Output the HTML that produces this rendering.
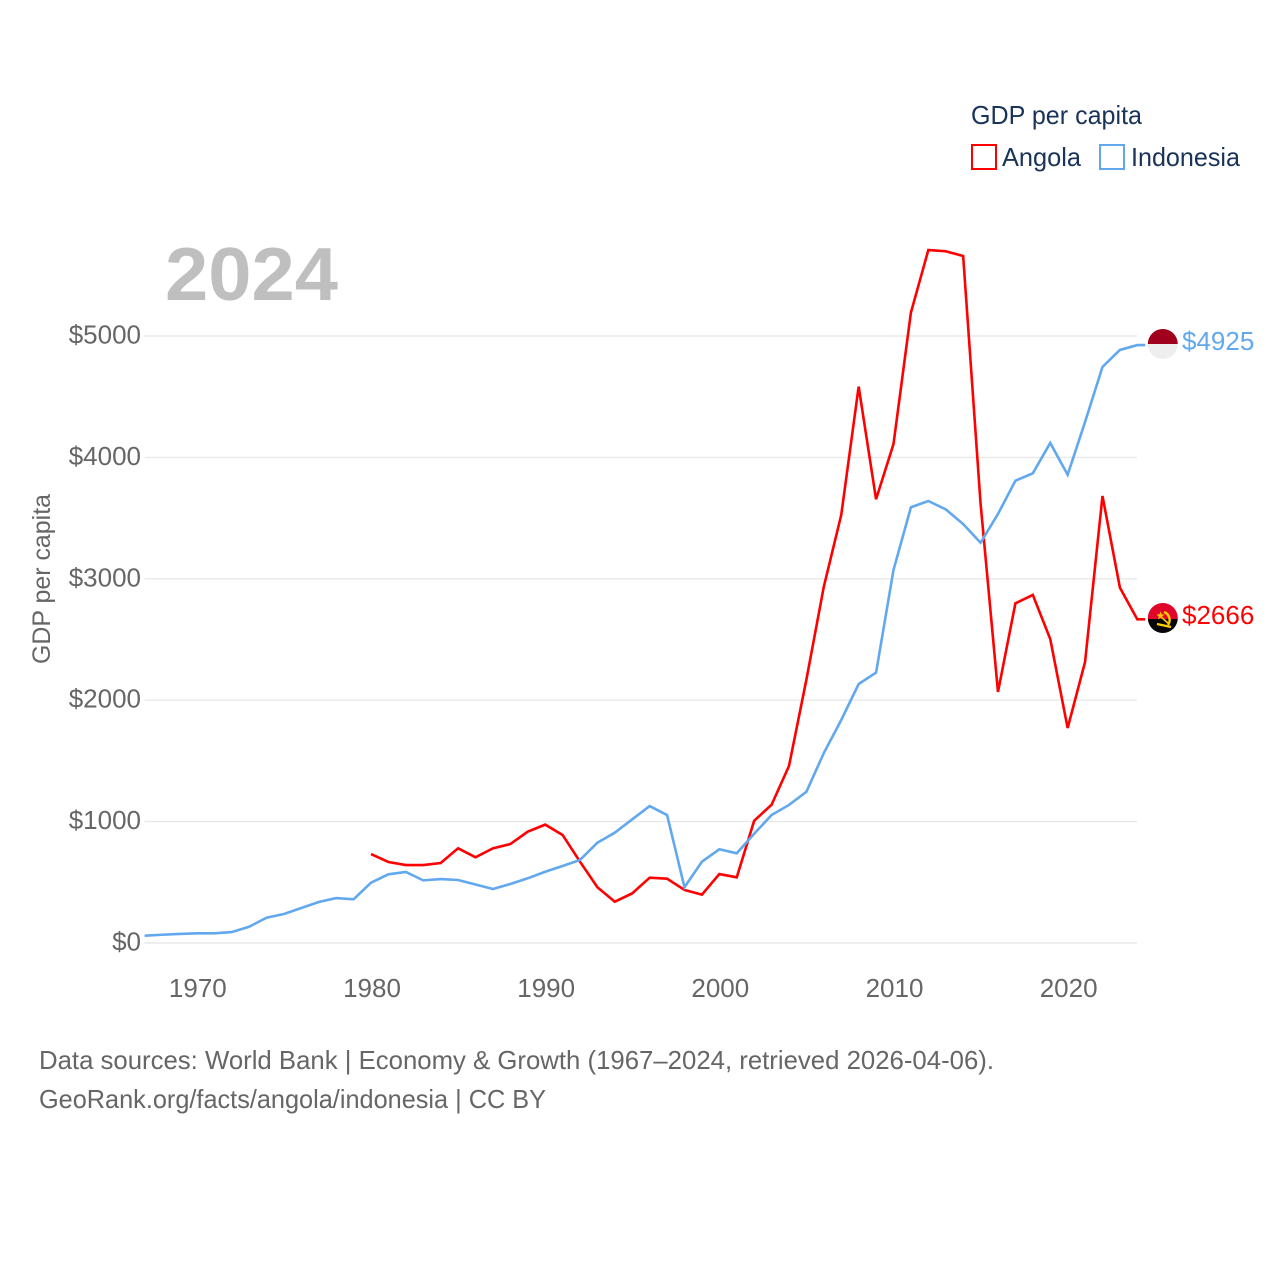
<!DOCTYPE html>
<html lang="en">
<head>
<meta charset="utf-8">
<title>GDP per capita: Angola and Indonesia</title>
<style>
html,body{margin:0;padding:0;background:#fff;}
svg{display:block;}
text{font-family:"Liberation Sans",sans-serif;}
</style>
</head>
<body>
<svg id="chart" xmlns="http://www.w3.org/2000/svg" width="1280" height="1280" viewBox="0 0 1280 1280">
  <rect width="1280" height="1280" fill="#fff"/>
  <g id="grid"></g>
  <g id="ytick-labels"></g>
  <g id="xtick-labels"></g>

  <text x="165" y="300" font-size="75" font-weight="700" fill="#bfbfbf" textLength="173" lengthAdjust="spacingAndGlyphs">2024</text>
  <text transform="translate(50,664) rotate(-90)" font-size="25" fill="#666" textLength="170" lengthAdjust="spacingAndGlyphs">GDP per capita</text>

  <g id="series"></g>

  <g>
    <text x="971" y="124" font-size="26" fill="#1a3358" textLength="171" lengthAdjust="spacingAndGlyphs">GDP per capita</text>
    <rect x="972" y="145" width="24" height="24" fill="#fff" stroke="#ff0000" stroke-width="2"/>
    <text x="1002" y="166" font-size="26" fill="#1a3358" textLength="79" lengthAdjust="spacingAndGlyphs">Angola</text>
    <rect x="1100" y="145" width="24" height="24" fill="#fff" stroke="#62a8ee" stroke-width="2"/>
    <text x="1131" y="166" font-size="26" fill="#1a3358" textLength="109" lengthAdjust="spacingAndGlyphs">Indonesia</text>
  </g>

  <g id="flag-indonesia">
    <clipPath id="clip-id"><circle cx="1162.8" cy="344" r="15"/></clipPath>
    <g clip-path="url(#clip-id)">
      <rect x="1147" y="328" width="32" height="16" fill="#a0001e"/>
      <rect x="1147" y="344" width="32" height="16" fill="#eeeeee"/>
    </g>
  </g>
  <g id="flag-angola">
    <clipPath id="clip-ao"><circle cx="1162.8" cy="618" r="15"/></clipPath>
    <g clip-path="url(#clip-ao)">
      <rect x="1147" y="602" width="32" height="17" fill="#e0062a"/>
      <rect x="1147" y="619" width="32" height="16" fill="#050505"/>
      <path d="M1164 612 A8.5 8.5 0 0 1 1168 625" fill="none" stroke="#ffcb00" stroke-width="2.4"/>
      <path d="M1157 624 L1171 627" fill="none" stroke="#ffcb00" stroke-width="2.2"/>
      <path d="M1160 616 L1169 624" fill="none" stroke="#ffcb00" stroke-width="1.6"/>
      <path d="M1160.5 611.5 L1161.6 614.4 L1164.5 614.6 L1162.2 616.4 L1163 619.2 L1160.5 617.6 L1158 619.2 L1158.8 616.4 L1156.5 614.6 L1159.4 614.4 Z" fill="#ffcb00"/>
    </g>
  </g>

  <text x="1182" y="350" font-size="26" fill="#62a8ee">$4925</text>
  <text x="1182" y="624" font-size="26" fill="#ff0000">$2666</text>

  <text x="39" y="1069" font-size="26" fill="#666" textLength="955" lengthAdjust="spacingAndGlyphs">Data sources: World Bank | Economy &amp; Growth (1967–2024, retrieved 2026-04-06).</text>
  <text x="39" y="1108" font-size="26" fill="#666" textLength="507" lengthAdjust="spacingAndGlyphs">GeoRank.org/facts/angola/indonesia | CC BY</text>
</svg>

<script>
const indonesiaStartYear = 1967;
const indonesiaValues = [60,68,75,80,80,90,134,208,239,288,338,370,360,497,566,585,516,527,519,482,445,486,533,587,634,684,826,909,1019,1128,1054,459,670,772,739,900,1054,1137,1246,1565,1837,2133,2227,3072,3589,3641,3572,3451,3297,3534,3808,3869,4119,3857,4292,4745,4885,4925];
const angolaStartYear = 1980;
const angolaValues = [733,667,642,642,659,780,706,780,815,917,975,890,670,459,340,409,538,530,437,398,568,541,1007,1139,1458,2170,2935,3526,4583,3655,4110,5192,5708,5698,5659,3620,2068,2798,2867,2504,1771,2315,3682,2927,2666];
const yTicks = [0,1000,2000,3000,4000,5000];
const xTicks = [1970,1980,1990,2000,2010,2020];

const NS = 'http://www.w3.org/2000/svg';
const xScale = function (year) { return 144.6 + 17.416 * (year - 1967); };
const yScale = function (value) { return 943 - 0.1214 * value; };

const grid = document.getElementById('grid');
const yLabels = document.getElementById('ytick-labels');
const xLabels = document.getElementById('xtick-labels');
const seriesGroup = document.getElementById('series');

yTicks.forEach(function (tick) {
  const line = document.createElementNS(NS, 'line');
  
  
  line.setAttribute('x1', xScale(1967));
  line.setAttribute('x2', 1137);
  line.setAttribute('y1', yScale(tick));
  line.setAttribute('y2', yScale(tick));
  line.setAttribute('stroke', '#e9e9e9');
  line.setAttribute('stroke-width', '1.4');
  grid.appendChild(line);

  const label = document.createElementNS(NS, 'text');
  
  
  label.setAttribute('x', 141);
  label.setAttribute('y', yScale(tick) + 7.5);
  label.setAttribute('text-anchor', 'end');
  label.setAttribute('font-size', '26');
  label.setAttribute('fill', '#666');
  label.textContent = '$' + tick;
  yLabels.appendChild(label);
});

xTicks.forEach(function (tick) {
  const label = document.createElementNS(NS, 'text');
  
  
  label.setAttribute('x', xScale(tick) + 1);
  label.setAttribute('y', 997);
  label.setAttribute('text-anchor', 'middle');
  label.setAttribute('font-size', '26');
  label.setAttribute('fill', '#666');
  label.textContent = tick;
  xLabels.appendChild(label);
});

function seriesPoints(startYear, values) {
  const pts = values.map(function (v, i) {
    return xScale(startYear + i).toFixed(2) + ',' + yScale(v).toFixed(2);
  });
  const last = values[values.length - 1];
  pts.push(xScale(startYear + values.length - 1 + 0.45).toFixed(2) + ',' + yScale(last).toFixed(2));
  return pts.join(' ');
}

const angolaLine = document.createElementNS(NS, 'polyline');


angolaLine.setAttribute('points', seriesPoints(angolaStartYear, angolaValues));
angolaLine.setAttribute('fill', 'none');
angolaLine.setAttribute('stroke', '#ff0000');
angolaLine.setAttribute('stroke-width', '2.6');
seriesGroup.appendChild(angolaLine);

const indonesiaLine = document.createElementNS(NS, 'polyline');


indonesiaLine.setAttribute('points', seriesPoints(indonesiaStartYear, indonesiaValues));
indonesiaLine.setAttribute('fill', 'none');
indonesiaLine.setAttribute('stroke', '#62a8ee');
indonesiaLine.setAttribute('stroke-width', '2.6');
seriesGroup.appendChild(indonesiaLine);
</script>
</body>
</html>
